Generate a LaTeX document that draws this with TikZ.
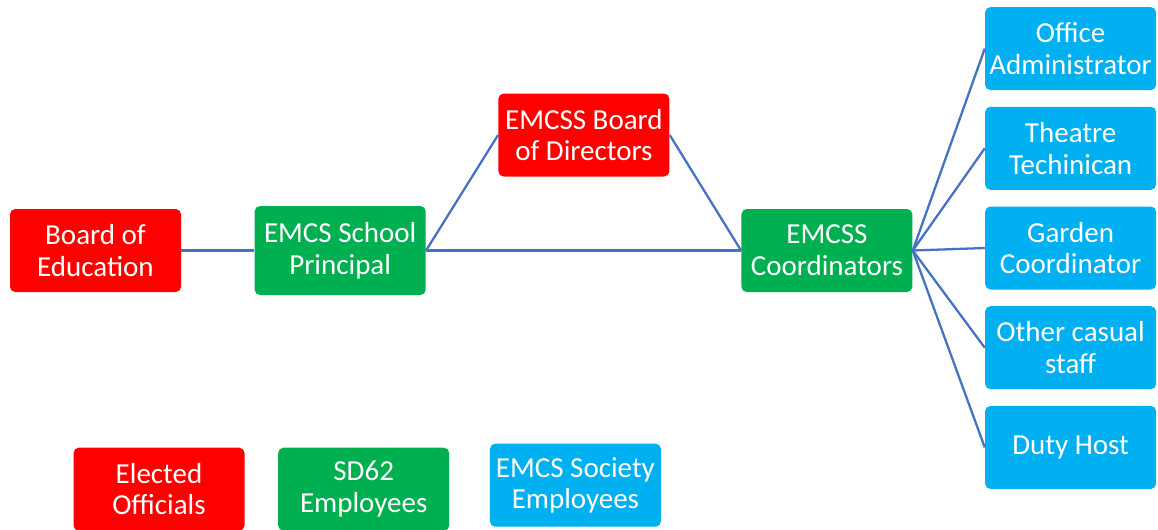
\documentclass[tikz,border=0pt]{standalone}
\usepackage{fontspec}
\setmainfont{Carlito}
\usepackage{tikz}
\usetikzlibrary{positioning}

\definecolor{elected}{HTML}{FF0000}
\definecolor{district}{HTML}{00B050}
\definecolor{society}{HTML}{00B0F0}
\definecolor{linkblue}{HTML}{4472C4}

\begin{document}
\begin{tikzpicture}[
        node distance=1.46cm,
        role/.style={rectangle, rounded corners=3pt, text=white, align=center,
          minimum width=3.42cm, minimum height=1.66cm, inner xsep=2pt,
          font=\fontsize{16.5}{18}\selectfont},
        redrole/.style={role, fill=elected},
        greenrole/.style={role, fill=district},
        bluerole/.style={role, fill=society},
        link/.style={draw=linkblue, line width=1.3pt}
      ]
        \useasboundingbox (0,0) rectangle (23.16,-10.58);

        \node (board) [redrole] at (1.91,-5.01) {Board of\\Education};
        \node (principal) [right=of board, greenrole, minimum height=1.78cm] {EMCS School\\Principal};
        \node (directors) [right=1.44cm of principal, redrole, yshift=2.31cm] {EMCSS Board\\of Directors};
        \node (coord) [right=6.3cm of principal, greenrole] {EMCSS\\Coordinators};

        % society staff
        \node (garden) [right=1.44cm of coord, bluerole, yshift=0.05cm] {Garden\\Coordinator};
        \node (theatre) [above=0.32cm of garden, bluerole] {Theatre\\Techinican};
        \node (office) [above=0.32cm of theatre, bluerole] {Office\\Administrator};
        \node (casual) [below=0.32cm of garden, bluerole] {Other casual\\staff};
        \node (duty) [below=0.32cm of casual, bluerole] {Duty Host};

        % legend
        \node (legred) [below=3.1cm of board, redrole, xshift=1.27cm] {Elected\\Officials};
        \node (leggreen) [right=0.66cm of legred, greenrole] {SD62\\Employees};
        \node (legblue) [right=0.8cm of leggreen, bluerole, yshift=0.08cm] {EMCS Society\\Employees};

        \draw[link] (board) -- (principal);
        \draw[link] (principal.east) -- (directors.west);
        \draw[link] (principal.east) -- (coord.west);
        \draw[link] (directors.east) -- (coord.west);
        \foreach \staff in {office,theatre,garden,casual,duty}
          \draw[link] (coord.east) -- (\staff.west);

      \end{tikzpicture}
\end{document}
